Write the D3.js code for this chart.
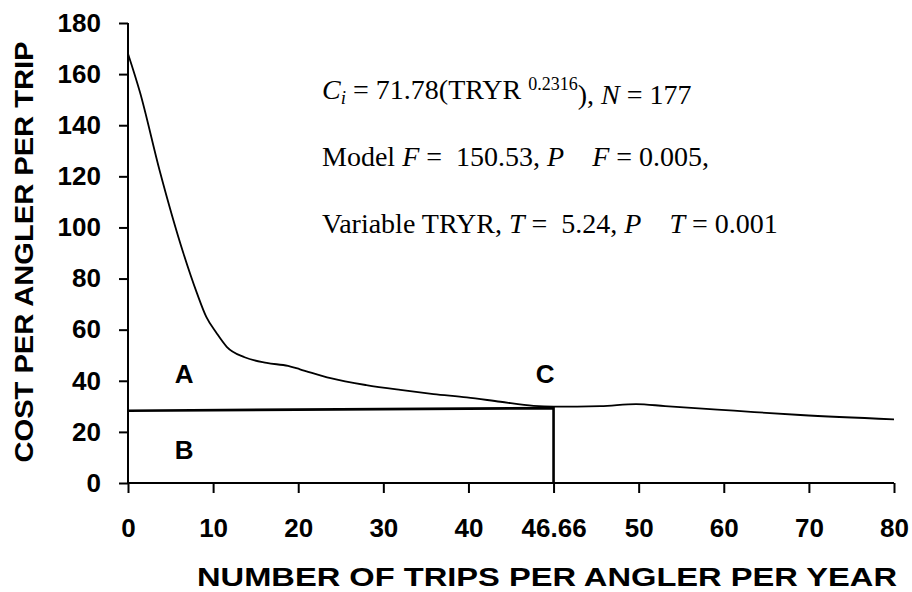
<!DOCTYPE html>
<html>
<head>
<meta charset="utf-8">
<script src="https://cdn.jsdelivr.net/npm/d3@7"></script>
<style>
  body { margin: 0; background: #fff; }
  text { font-family: "Liberation Sans", Arial, sans-serif; }
  .note text { font-family: "Liberation Serif", "Times New Roman", serif; white-space: pre; }
</style>
</head>
<body>
<script>

var width  = 912;
var height = 592;

// x axis tick values (evenly spaced on the chart, 46.66 included)
var xTickValues = [0, 10, 20, 30, 40, 46.66, 50, 60, 70, 80];
var yTickValues = [0, 20, 40, 60, 80, 100, 120, 140, 160, 180];

// cost curve
var curveTrips = [0, 1.4, 3.7, 6.5, 8.1, 9.2, 10.4, 11.6, 13.7, 16.3, 18.8, 20.2, 23.8,
                  28, 32, 35.9, 39.8, 42.5, 45.1, 46.66, 48.5, 49.9, 53.1, 61.2, 69, 80];
var curveCost  = [168, 153, 122.5, 90, 74.3, 65, 58.7, 53.3, 49.2, 47, 45.8, 44.5, 41,
                  38.3, 36.4, 34.8, 33.5, 31.8, 30.2, 29.9, 30.1, 30.9, 30.1, 28.3, 26.6, 24.9];

// price line and the drop at 46.66 trips
var priceTrips = [0, 46.66, 46.66];
var priceCost  = [28.3, 29.3, 0];

// area labels
var areaLabels = ['A', 'B', 'C'];
var areaTrips  = [6.6, 6.6, 46.0];
var areaCost   = [39.1, 9.4, 39.1];

var plotLeft = 128, plotRight = 894, plotTop = 23, plotBottom = 483;
var step = (plotRight - plotLeft) / (xTickValues.length - 1);

var x = d3.scaleLinear()
          .domain(xTickValues)
          .range(xTickValues.map(function(d, i){ return plotLeft + i * step; }));

var y = d3.scaleLinear()
          .domain([0, 180])
          .range([plotBottom, plotTop]);

var svg = d3.select('body')
            .append('svg')
            .attr('width', width)
            .attr('height', height);

// axes
var xAxis = d3.axisBottom(x)
              .tickValues(xTickValues)
              .tickFormat(function(d){ return d === 46.66 ? '46.66' : d; })
              .tickSize(10)
              .tickPadding(26);

var yAxis = d3.axisLeft(y)
              .tickValues(yTickValues)
              .tickSize(9)
              .tickPadding(18);

var gx = svg.append('g')
            .attr('transform', 'translate(0,' + plotBottom + ')')
            .call(xAxis);

var gy = svg.append('g')
            .attr('transform', 'translate(' + plotLeft + ',0)')
            .call(yAxis);

[gx, gy].forEach(function(g){
  g.select('.domain').attr('stroke', '#000').attr('stroke-width', 2);
  g.selectAll('.tick line').attr('stroke', '#000').attr('stroke-width', 2);
  g.selectAll('.tick text')
   .attr('fill', '#000')
   .attr('font-size', '26px')
   .attr('font-weight', 'bold')
   .attr('font-family', '"Liberation Sans", Arial, sans-serif');
});
gx.select('.domain').attr('d', 'M' + plotLeft + ',0H' + plotRight);
gy.select('.domain').attr('d', 'M0,' + plotBottom + 'V' + plotTop);

// cost curve
var line = d3.line()
             .x(function(d){ return x(d[0]); })
             .y(function(d){ return y(d[1]); })
             .curve(d3.curveMonotoneX);

svg.append('path')
   .datum(d3.zip(curveTrips, curveCost))
   .attr('d', line)
   .attr('fill', 'none')
   .attr('stroke', '#000')
   .attr('stroke-width', 1.8);

// price line
svg.append('path')
   .datum(d3.zip(priceTrips, priceCost))
   .attr('d', d3.line()
                .x(function(d){ return x(d[0]); })
                .y(function(d){ return y(d[1]); }))
   .attr('fill', 'none')
   .attr('stroke', '#000')
   .attr('stroke-width', 2.6);

// A, B, C
svg.selectAll('text.area')
   .data(areaLabels)
   .enter()
   .append('text')
   .attr('class', 'area')
   .attr('x', function(d, i){ return x(areaTrips[i]); })
   .attr('y', function(d, i){ return y(areaCost[i]); })
   .attr('text-anchor', 'middle')
   .attr('font-size', '26px')
   .attr('font-weight', 'bold')
   .text(function(d){ return d; });

// axis titles
svg.append('text')
   .attr('x', 547)
   .attr('y', 586)
   .attr('text-anchor', 'middle')
   .attr('font-size', '25px')
   .attr('font-weight', 'bold')
   .attr('textLength', 700)
   .attr('lengthAdjust', 'spacingAndGlyphs')
   .text('NUMBER OF TRIPS PER ANGLER PER YEAR');

svg.append('text')
   .attr('transform', 'translate(33,252) rotate(-90)')
   .attr('text-anchor', 'middle')
   .attr('font-size', '26px')
   .attr('font-weight', 'bold')
   .attr('textLength', 421)
   .attr('lengthAdjust', 'spacingAndGlyphs')
   .text('COST PER ANGLER PER TRIP');

// regression note
var note = svg.append('g')
              .attr('class', 'note')
              .attr('font-size', '28px')
              .attr('fill', '#000');

var noteX = x(22.8);
var lines = [
  [ {t: 'C', i: 1}, {t: 'i', i: 1, sub: 1}, {t: ' = 71.78(TRYR ', dy: -5}, {t: '0.2316', sup: 1},
    {t: '), ', dy: 14}, {t: 'N', i: 1}, {t: ' = 177'} ],
  [ {t: 'Model '}, {t: 'F', i: 1}, {t: ' =  150.53, '}, {t: 'P', i: 1}, {t: '    '},
    {t: 'F', i: 1}, {t: ' = 0.005,'} ],
  [ {t: 'Variable TRYR, '}, {t: 'T', i: 1}, {t: ' =  5.24, '}, {t: 'P', i: 1}, {t: '    '},
    {t: 'T', i: 1}, {t: ' = 0.001'} ]
];
var noteCost = [150.3, 124.1, 97.8];

lines.forEach(function(parts, k){
  var t = note.append('text')
              .attr('x', noteX)
              .attr('y', y(noteCost[k]))
              .attr('xml:space', 'preserve');
  parts.forEach(function(p){
    var s = t.append('tspan').text(p.t);
    if (p.i)   s.attr('font-style', 'italic');
    if (p.sub) s.attr('font-size', '19px').attr('dy', 5);
    if (p.sup) s.attr('font-size', '18px').attr('dy', -9);
    if (p.dy)  s.attr('dy', p.dy);
  });
});

</script>
</body>
</html>
